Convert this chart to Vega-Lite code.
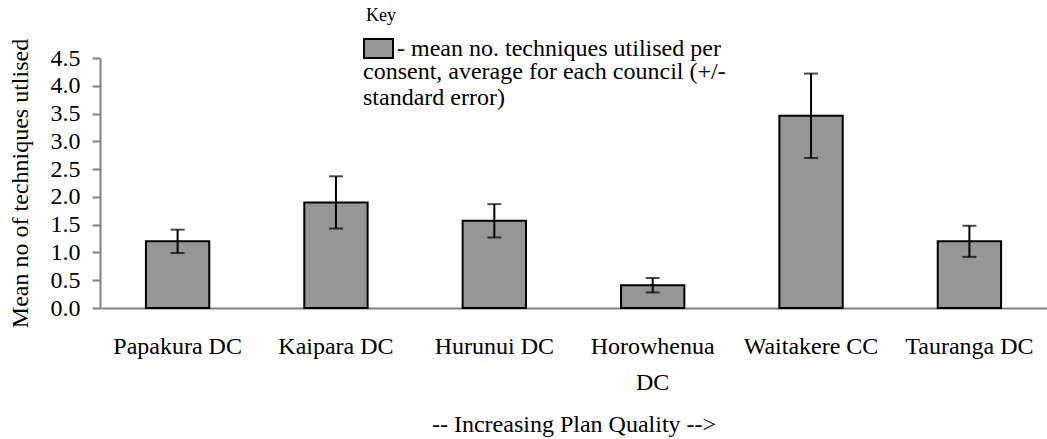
{
  "$schema": "https://vega.github.io/schema/vega-lite/v6.json",
  "width": 947,
  "height": 250,
  "autosize": "none",
  "padding": {"left": 100, "top": 58, "right": 0, "bottom": 131},
  "background": "white",
  "title": {
    "text": "Key",
    "anchor": "start",
    "frame": "group",
    "dx": 266,
    "offset": 8,
    "fontSize": 18,
    "fontWeight": "normal",
    "font": "Liberation Serif",
    "color": "black"
  },
  "data": {
    "values": [
      {"council": "Papakura DC", "mean": 1.2, "se": 0.21, "series": "- mean no. techniques utilised per"},
      {"council": "Kaipara DC", "mean": 1.9, "se": 0.47, "series": "- mean no. techniques utilised per"},
      {"council": "Hurunui DC", "mean": 1.57, "se": 0.3, "series": "- mean no. techniques utilised per"},
      {"council": "Horowhenua DC", "mean": 0.41, "se": 0.13, "series": "- mean no. techniques utilised per"},
      {"council": "Waitakere CC", "mean": 3.46, "se": 0.76, "series": "- mean no. techniques utilised per"},
      {"council": "Tauranga DC", "mean": 1.2, "se": 0.28, "series": "- mean no. techniques utilised per"}
    ]
  },
  "encoding": {
    "x": {
      "field": "council",
      "type": "nominal",
      "sort": null,
      "scale": {"paddingInner": 0.6, "paddingOuter": 0.29},
      "axis": {
        "title": "-- Increasing Plan Quality -->",
        "titleFontSize": 24,
        "titleFontWeight": "normal",
        "titleColor": "black",
        "titlePadding": 18,
        "labelAngle": 0,
        "labelFontSize": 24,
        "labelColor": "black",
        "labelPadding": 26,
        "labelLineHeight": 36,
        "labelLimit": 300,
        "labelOverlap": false,
        "labelExpr": "datum.value == 'Horowhenua DC' ? ['Horowhenua', 'DC'] : datum.value",
        "ticks": false,
        "domainColor": "#808080",
        "domainWidth": 2,
        "grid": false
      }
    },
    "y": {
      "field": "mean",
      "type": "quantitative",
      "title": "Mean no of techniques utlised",
      "scale": {"domain": [0, 4.5], "nice": false},
      "axis": {
        "titleFontSize": 24,
        "titleFontWeight": "normal",
        "titleColor": "black",
        "titlePadding": 18,
        "values": [0, 0.5, 1, 1.5, 2, 2.5, 3, 3.5, 4, 4.5],
        "format": ".1f",
        "labelOverlap": false,
        "labelFontSize": 24,
        "labelColor": "black",
        "labelPadding": 12,
        "tickSize": 8,
        "tickColor": "#808080",
        "tickWidth": 2,
        "domainColor": "#808080",
        "domainWidth": 2,
        "grid": false
      }
    }
  },
  "layer": [
    {
      "mark": {"type": "bar", "stroke": "black", "strokeWidth": 2},
      "encoding": {
        "color": {
          "field": "series",
          "type": "nominal",
          "scale": {"range": ["#969696"]},
          "legend": {
            "orient": "none",
            "legendX": 263,
            "legendY": -25,
            "title": ["consent, average for each council (+/-", "standard error)"],
            "titleOrient": "bottom",
            "titleAnchor": "start",
            "titleFontSize": 24,
            "titleFontWeight": "normal",
            "titleColor": "black",
            "titleLineHeight": 26,
            "titlePadding": -2,
            "titleLimit": 600,
            "labelFontSize": 24,
            "labelColor": "black",
            "labelLimit": 600,
            "labelOffset": 3,
            "symbolType": "M-1,-0.655H1V0.655H-1Z",
            "symbolSize": 841,
            "symbolStrokeColor": "black",
            "symbolStrokeWidth": 2,
            "symbolOpacity": 1
          }
        }
      }
    },
    {
      "mark": {
        "type": "errorbar",
        "ticks": {"size": 14, "thickness": 2, "color": "black"},
        "rule": {"strokeWidth": 2, "color": "black"}
      },
      "encoding": {
        "yError": {"field": "se"}
      }
    }
  ],
  "config": {
    "font": "Liberation Serif",
    "view": {"stroke": null}
  }
}
